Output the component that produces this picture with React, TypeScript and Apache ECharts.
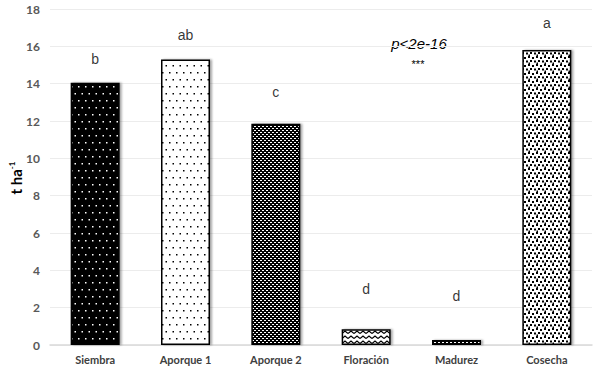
import React, { useEffect, useRef } from "react";
import * as echarts from "echarts";

const categories = ["Siembra", "Aporque 1", "Aporque 2", "Floración", "Madurez", "Cosecha"];
const yieldValues = [14.05, 15.3, 11.85, 0.85, 0.27, 15.8];
const letters = ["b", "ab", "c", "d", "d", "a"];
const letterY = [15.3, 16.6, 13.55, 3.0, 2.6, 17.25];
const yTicks = { min: 0, max: 18, interval: 2 };

function makePattern(kind: string): string {
  const c = document.createElement("canvas");
  const ctx = c.getContext("2d")!;
  if (kind === "blackDots") {
    c.width = 7; c.height = 14;
    ctx.fillStyle = "#000"; ctx.fillRect(0, 0, 7, 14);
    ctx.fillStyle = "#fff";
    ctx.fillRect(1, 2, 1.5, 1.5);
    ctx.fillRect(4.5, 9, 1.5, 1.5);
  } else if (kind === "whiteDots") {
    c.width = 7; c.height = 14;
    ctx.fillStyle = "#fff"; ctx.fillRect(0, 0, 7, 14);
    ctx.fillStyle = "#000";
    ctx.fillRect(1, 2, 1.5, 1.5);
    ctx.fillRect(4.5, 9, 1.5, 1.5);
  } else if (kind === "bricks") {
    c.width = 4; c.height = 4;
    ctx.fillStyle = "#000"; ctx.fillRect(0, 0, 4, 4);
    ctx.fillStyle = "#fff";
    ctx.fillRect(0, 0, 2, 1);
    ctx.fillRect(2, 2, 2, 1);
  } else if (kind === "zigzag") {
    c.width = 6; c.height = 5;
    ctx.fillStyle = "#fff"; ctx.fillRect(0, 0, 6, 5);
    ctx.strokeStyle = "#000"; ctx.lineWidth = 1.2;
    ctx.beginPath();
    ctx.moveTo(0, 3.5); ctx.lineTo(3, 1); ctx.lineTo(6, 3.5);
    ctx.stroke();
  } else if (kind === "squares") {
    c.width = 8; c.height = 8;
    ctx.fillStyle = "#fff"; ctx.fillRect(0, 0, 8, 8);
    ctx.fillStyle = "#000";
    ctx.fillRect(0, 0, 2, 2);
    ctx.fillRect(4, 1, 2, 2);
    ctx.fillRect(2, 4, 2, 2);
    ctx.fillRect(6, 4.5, 2, 2);
    ctx.fillRect(0.5, 6.5, 1.5, 1.5);
  }
  return c.toDataURL();
}

export default function App() {
  const ref = useRef<HTMLDivElement>(null);
  useEffect(() => {
    if (!ref.current) return;
    const chart = echarts.init(ref.current, undefined, { renderer: "svg" });
    const patterns = ["blackDots", "whiteDots", "bricks", "zigzag", "bricks", "squares"].map(makePattern);
    chart.setOption({
      animation: false,
      backgroundColor: "#fff",
      grid: { left: 50, right: 8, top: 9, bottom: 29, containLabel: false, outerBoundsMode: "none" },
      xAxis: {
        type: "category",
        data: categories,
        axisLine: { lineStyle: { color: "#d9d9d9", width: 1.5 } },
        axisTick: { show: false },
        axisLabel: { color: "#404040", fontSize: 11, fontWeight: "bold", fontFamily: "Lato", margin: 9 },
      },
      yAxis: {
        type: "value",
        min: yTicks.min,
        max: yTicks.max,
        interval: yTicks.interval,
        axisLine: { show: false },
        axisTick: { show: false },
        splitLine: { lineStyle: { color: "#ececec" } },
        axisLabel: { color: "#595959", fontSize: 12, fontWeight: "bold", fontFamily: "Lato", margin: 10 },
      },
      series: [
        {
          type: "bar",
          barWidth: 49,
          data: yieldValues.map((v, i) => ({
            value: v,
            itemStyle: {
              color: { image: patterns[i], repeat: "repeat" },
              borderColor: "#000",
              borderWidth: 1.5,
              shadowColor: "rgba(0,0,0,0.35)",
              shadowBlur: 2,
              shadowOffsetX: 2,
              shadowOffsetY: 0,
            },
          })),
        },
        {
          type: "scatter",
          symbolSize: 1,
          silent: true,
          itemStyle: { color: "rgba(0,0,0,0)" },
          data: letterY,
          label: {
            show: true,
            position: "inside",
            formatter: (p: any) => letters[p.dataIndex],
            color: "#000",
            fontSize: 14,
            fontFamily: "Liberation Sans",
          },
        },
      ],
      graphic: [
        {
          type: "text",
          x: 16,
          y: 178,
          rotation: Math.PI / 2,
          style: {
            text: "{a|t ha}{s|-1}",
            align: "center",
            verticalAlign: "middle",
            rich: {
              a: { fontSize: 15, fontWeight: "bold", fill: "#000", fontFamily: "Lato" },
              s: { fontSize: 8, fontWeight: "bold", fill: "#000", fontFamily: "Lato", padding: [0, 0, 8, 0] },
            },
          },
        },
        {
          type: "text",
          x: 419,
          y: 43,
          style: {
            text: "p<2e-16",
            fontSize: 15,
            fontStyle: "italic",
            fontFamily: "Liberation Sans",
            fill: "#000",
            align: "center",
            verticalAlign: "middle",
          },
        },
        {
          type: "text",
          x: 418,
          y: 64,
          style: {
            text: "***",
            fontSize: 11,
            fontFamily: "Liberation Sans",
            fill: "#000",
            align: "center",
            verticalAlign: "middle",
          },
        },
      ],
    });
    return () => chart.dispose();
  }, []);
  return <div ref={ref} style={{ width: 600, height: 374, position: "absolute", left: 0, top: 0 }} />;
}
